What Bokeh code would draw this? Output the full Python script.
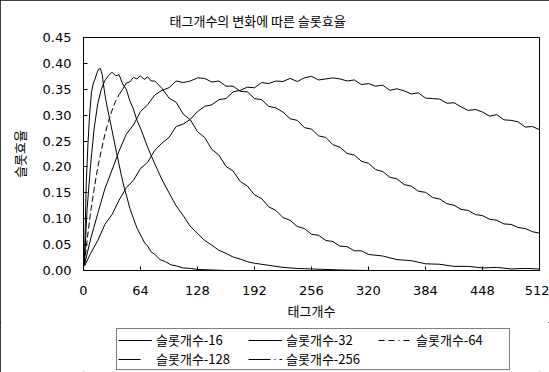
from bokeh.plotting import figure
from bokeh.layouts import column
from bokeh.models import (Range1d, FixedTicker, NumeralTickFormatter, Legend, LegendItem)
from bokeh.embed import file_html
from bokeh.resources import INLINE

# ---------------- data ----------------
title_text = "태그개수의 변화에 따른 슬롯효율"
x_title = "태그개수"
y_title = "슬롯효율"
series_names = ["슬롯개수-16", "슬롯개수-32", "슬롯개수-64", "슬롯개수-128", "슬롯개수-256"]
x_ticks = [0, 64, 128, 192, 256, 320, 384, 448, 512]
y_ticks = [0.0, 0.05, 0.10, 0.15, 0.20, 0.25, 0.30, 0.35, 0.40, 0.45]

x16 = [1, 3, 5, 7, 9, 11, 13, 15, 17, 19, 21, 23, 25, 27, 29, 31, 34, 37, 40, 43, 46, 49,
       52, 56, 60, 64, 68, 72, 76, 80, 86, 92, 98, 104, 112, 120, 128, 144, 160, 192, 256,
       320, 384, 448, 512]
y16 = [0.012, 0.165, 0.245, 0.305, 0.345, 0.362, 0.370, 0.381, 0.389, 0.390, 0.378, 0.352,
       0.330, 0.312, 0.296, 0.279, 0.254, 0.228, 0.204, 0.180, 0.158, 0.140, 0.120, 0.101,
       0.082, 0.069, 0.055, 0.047, 0.036, 0.031, 0.021, 0.017, 0.011, 0.009, 0.005, 0.004,
       0.002, 0.001, 0.0, 0.0, 0.0, 0.0, 0.0, 0.0, 0.0]

x32 = [1, 4, 8, 12, 16, 20, 24, 28, 32, 36, 40, 44, 48, 52, 56, 60, 64, 72, 80, 88, 96, 104,
       112, 120, 128, 136, 144, 152, 160, 168, 176, 184, 192, 208, 224, 240, 256, 288, 320,
       384, 448, 512]
y32 = [0.012, 0.118, 0.205, 0.275, 0.322, 0.350, 0.367, 0.376, 0.383, 0.376, 0.378, 0.360,
       0.350, 0.328, 0.312, 0.290, 0.275, 0.238, 0.206, 0.176, 0.150, 0.125, 0.106, 0.085,
       0.072, 0.058, 0.049, 0.039, 0.033, 0.026, 0.022, 0.017, 0.014, 0.010, 0.006, 0.004,
       0.003, 0.001, 0.0, 0.0, 0.0, 0.0]

x64 = [1, 4, 8, 12, 16, 20, 24, 28, 32, 36, 40, 44, 48, 52, 56, 60, 64, 68, 72, 76, 80, 88,
       96, 104, 112, 120, 128, 136, 144, 152, 160, 168, 176, 184, 192, 200, 208, 216, 224,
       232, 240, 248, 256, 264, 272, 280, 288, 296, 304, 312, 320, 336, 352, 368, 384, 400,
       416, 432, 448, 464, 480, 496, 512]
y64 = [0.012, 0.058, 0.113, 0.158, 0.199, 0.232, 0.263, 0.288, 0.309, 0.327, 0.340, 0.350,
       0.362, 0.364, 0.373, 0.370, 0.376, 0.369, 0.374, 0.366, 0.366, 0.352, 0.333, 0.325,
       0.302, 0.291, 0.268, 0.257, 0.234, 0.223, 0.201, 0.192, 0.172, 0.163, 0.146, 0.139,
       0.123, 0.116, 0.102, 0.097, 0.085, 0.081, 0.070, 0.068, 0.058, 0.056, 0.047, 0.046,
       0.038, 0.038, 0.031, 0.028, 0.021, 0.019, 0.013, 0.012, 0.008, 0.008, 0.005, 0.006,
       0.003, 0.004, 0.003]

x128 = [1, 8, 16, 24, 32, 40, 48, 56, 64, 72, 80, 88, 96, 104, 112, 120, 128, 136, 144, 152,
        160, 168, 176, 184, 192, 200, 208, 216, 224, 232, 240, 248, 256, 264, 272, 280, 288,
        296, 304, 312, 320, 328, 336, 344, 352, 360, 368, 376, 384, 392, 400, 408, 416, 424,
        432, 440, 448, 456, 464, 472, 480, 488, 496, 504, 512]
y128 = [0.010, 0.061, 0.110, 0.158, 0.194, 0.231, 0.263, 0.281, 0.307, 0.320, 0.339, 0.348,
        0.353, 0.366, 0.363, 0.366, 0.372, 0.371, 0.364, 0.366, 0.356, 0.356, 0.346, 0.345,
        0.332, 0.330, 0.317, 0.314, 0.306, 0.293, 0.290, 0.276, 0.273, 0.260, 0.257, 0.243,
        0.238, 0.226, 0.223, 0.211, 0.207, 0.195, 0.191, 0.180, 0.177, 0.166, 0.163, 0.153,
        0.151, 0.141, 0.138, 0.129, 0.126, 0.118, 0.116, 0.108, 0.106, 0.099, 0.097, 0.090,
        0.089, 0.083, 0.081, 0.075, 0.072]

x256 = [1, 8, 16, 24, 32, 40, 48, 56, 64, 72, 80, 88, 96, 104, 112, 120, 128, 136, 144, 152,
        160, 168, 176, 184, 192, 200, 208, 216, 224, 232, 240, 248, 256, 264, 272, 280, 288,
        296, 304, 312, 320, 328, 336, 344, 352, 360, 368, 376, 384, 392, 400, 408, 416, 424,
        432, 440, 448, 456, 464, 472, 480, 488, 496, 504, 512]
y256 = [0.008, 0.033, 0.058, 0.089, 0.108, 0.136, 0.160, 0.174, 0.197, 0.209, 0.232, 0.246,
        0.257, 0.278, 0.283, 0.292, 0.307, 0.317, 0.320, 0.330, 0.332, 0.345, 0.348, 0.354,
        0.353, 0.363, 0.361, 0.366, 0.365, 0.371, 0.365, 0.372, 0.375, 0.368, 0.370, 0.372,
        0.370, 0.366, 0.368, 0.359, 0.361, 0.356, 0.358, 0.348, 0.351, 0.347, 0.341, 0.343,
        0.333, 0.332, 0.331, 0.323, 0.324, 0.316, 0.309, 0.311, 0.306, 0.298, 0.301, 0.291,
        0.290, 0.287, 0.277, 0.278, 0.272]

xs = [x16, x32, x64, x128, x256]
ys = [y16, y32, y64, y128, y256]

# ---------------- main chart ----------------
KR = "Noto Sans CJK KR"
NUM = "DejaVu Sans"

p = figure(width=549, height=322, output_backend="svg", toolbar_location=None,
           x_range=Range1d(0, 512), y_range=Range1d(0, 0.45),
           min_border_left=83, min_border_right=10, min_border_top=31, min_border_bottom=52)
p.background_fill_color = "white"
p.border_fill_color = "white"
p.outline_line_color = "black"
p.outline_line_width = 1
p.outline_line_alpha = 1.0
p.xgrid.visible = False
p.ygrid.visible = False

for ax in (p.xaxis[0], p.yaxis[0]):
    ax.axis_line_color = "black"
    ax.major_tick_line_color = "black"
    ax.major_tick_in = 4
    ax.major_tick_out = 0
    ax.minor_tick_line_color = None
    ax.major_label_text_font = NUM
    ax.major_label_text_font_size = "13px"
    ax.major_label_text_color = "black"
    ax.axis_label_text_font = KR
    ax.axis_label_text_font_size = "13px"
    ax.axis_label_text_font_style = "normal"
    ax.axis_label_text_color = "black"

p.xaxis.ticker = FixedTicker(ticks=x_ticks)
p.yaxis.ticker = FixedTicker(ticks=y_ticks)
p.yaxis.formatter = NumeralTickFormatter(format="0.00")
p.xaxis.axis_label = x_title
p.yaxis.axis_label = y_title
p.xaxis.major_label_standoff = 15
p.yaxis.major_label_standoff = 12
p.xaxis.axis_label_standoff = 3
p.yaxis.axis_label_standoff = 11

p.title.text = title_text
p.title.text_font = KR
p.title.text_font_size = "13px"
p.title.text_font_style = "normal"
p.title.text_color = "black"
p.title.align = "left"
p.title.offset = 86
p.title.standoff = 16

# data lines as they appear in the plot (the 64 curve is dashed while rising)
p.line(x16, y16, line_color="black", line_width=1)
p.line(x32, y32, line_color="black", line_width=1)
p.line(x64[:11], y64[:11], line_color="black", line_width=1, line_dash="6 3")
p.line(x64[10:], y64[10:], line_color="black", line_width=1)
p.line(x128, y128, line_color="black", line_width=1)
p.line(x256, y256, line_color="black", line_width=1)

# ---------------- legend strip ----------------
q = figure(width=549, height=50, output_backend="svg", toolbar_location=None,
           x_range=Range1d(-2, -1), y_range=Range1d(-2, -1),
           min_border_left=0, min_border_right=0, min_border_top=0, min_border_bottom=0)
q.axis.visible = False
q.xgrid.visible = False
q.ygrid.visible = False
q.outline_line_color = None
q.background_fill_color = "white"
q.border_fill_color = "white"

dashes = ["solid", "solid", "6 4 6 4 1 4", "22 12", "22 4 1 4"]
items = []
for name, d, xv, yv in zip(series_names, dashes, xs, ys):
    r = q.line(xv, yv, line_color="black", line_width=1, line_dash=d)
    items.append(LegendItem(label=name, renderers=[r]))

legend = Legend(items=items, location=(33, 2), orientation="horizontal", ncols=3,
                label_text_font=KR, label_text_font_size="13px", label_text_color="black",
                glyph_width=34, glyph_height=14, label_height=14, label_width=92,
                label_standoff=4, spacing=0, padding=1, margin=0,
                border_line_color="black", border_line_width=1,
                background_fill_color="white", background_fill_alpha=1.0)
q.add_layout(legend, "center")

layout = column(p, q, spacing=0)
layout.styles = {"outline": "1px solid black", "outline-offset": "-1px"}
open("out.html", "w").write(file_html(layout, INLINE))
